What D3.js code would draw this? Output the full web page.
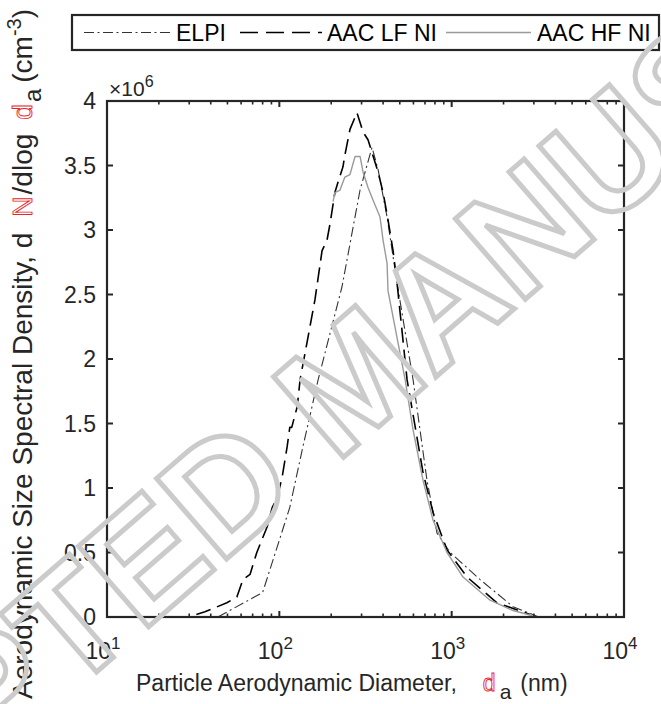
<!DOCTYPE html>
<html><head><meta charset="utf-8">
<script src="https://cdn.jsdelivr.net/npm/d3@7"></script>
<style>
html,body{margin:0;padding:0;background:#fff;}
svg{display:block;font-family:"Liberation Sans",Arial,sans-serif;}
</style></head>
<body>
<svg id="chart" width="661" height="704"></svg>
<script>
// ---- data ----
const seriesNames = ["ELPI", "AAC LF NI", "AAC HF NI"];
const elpiX = [44, 80, 97, 115, 137, 168, 231, 294, 345, 374, 422, 482, 597, 719, 822, 980, 1463, 2270, 2950, 3200];
const elpiY = [0, 0.19, 0.54, 0.85, 1.32, 1.84, 2.56, 3.31, 3.64, 3.47, 3.10, 2.59, 1.84, 1.06, 0.65, 0.50, 0.29, 0.08, 0.02, 0];
const lfX = [33, 37, 49.6, 56.7, 61.5, 67.6, 74, 85, 91, 97, 104, 111, 115, 118, 127, 132, 161, 177, 189, 197, 210, 219, 234, 240, 257, 282, 306, 327, 345, 374, 400, 427, 457, 482, 551, 682, 780, 940, 1228, 1833, 2850];
const lfY = [0.02, 0.04, 0.11, 0.155, 0.29, 0.33, 0.50, 0.70, 0.85, 0.92, 1.09, 1.32, 1.47, 1.47, 1.63, 1.84, 2.46, 2.84, 2.92, 3.05, 3.29, 3.37, 3.49, 3.58, 3.78, 3.91, 3.76, 3.70, 3.60, 3.45, 3.29, 3.08, 2.84, 2.59, 1.84, 1.12, 0.81, 0.52, 0.31, 0.11, 0.02];
const hfX = [205, 210, 225, 240, 257, 275, 294, 306, 327, 350, 384, 400, 422, 427, 537, 597, 682, 780, 940, 1164, 1670, 2270, 2950];
const hfY = [3.22, 3.29, 3.31, 3.41, 3.43, 3.57, 3.57, 3.45, 3.33, 3.23, 3.10, 2.92, 2.74, 2.53, 1.84, 1.45, 1.06, 0.75, 0.50, 0.31, 0.13, 0.05, 0.01];
const yTicks = [0, 0.5, 1, 1.5, 2, 2.5, 3, 3.5, 4];
const yTickLabels = ["0", "0.5", "1", "1.5", "2", "2.5", "3", "3.5", "4"];
const xTickExps = [1, 2, 3, 4];
const yScaleExp = 6;
const watermarkText = "ACCEPTED MANUSCRIPT";

// ---- layout ----
const svg = d3.select("#chart");
const L = 107, R = 624, T = 101, B = 617;
const x = d3.scaleLog().domain([10, 10000]).range([L, R]);
const y = d3.scaleLinear().domain([0, 4]).range([B, T]);
const axisColor = "#262626";
const fs = 23;

svg.append("rect").attr("x", L).attr("y", T).attr("width", R - L).attr("height", B - T).attr("fill", "#fff");

// curves
const line = d3.line().x(d => x(d[0])).y(d => y(d[1]));
const zipS = (a, b) => a.map((v, i) => [v, b[i]]);
const series = [
  { name: seriesNames[0], data: zipS(elpiX, elpiY), color: "#333", w: 1.1, dash: "10,3.5,2,3.5" },
  { name: seriesNames[1], data: zipS(lfX, lfY), color: "#000", w: 1.6, dash: "15,7" },
  { name: seriesNames[2], data: zipS(hfX, hfY), color: "#9a9a9a", w: 1.4, dash: null }
];
const plotG = svg.append("g");
series.forEach(s => {
  plotG.append("path").attr("d", line(s.data)).attr("fill", "none")
    .attr("stroke", s.color).attr("stroke-width", s.w)
    .attr("stroke-dasharray", s.dash).attr("stroke-linejoin", "round");
});

// ticks (inward, all sides)
const tg = svg.append("g").attr("stroke", axisColor);
const major = 6, minor = 3.5;
yTicks.forEach(v => {
  tg.append("line").attr("x1", L).attr("x2", L + major).attr("y1", y(v)).attr("y2", y(v)).attr("stroke-width", 2);
  tg.append("line").attr("x1", R).attr("x2", R - major).attr("y1", y(v)).attr("y2", y(v)).attr("stroke-width", 2);
});
const xMinor = [];
for (let e = 1; e < 4; e++) for (let m = 2; m <= 9; m++) xMinor.push(m * Math.pow(10, e));
xMinor.forEach(v => {
  tg.append("line").attr("x1", x(v)).attr("x2", x(v)).attr("y1", B).attr("y2", B - minor).attr("stroke-width", 1.6);
  tg.append("line").attr("x1", x(v)).attr("x2", x(v)).attr("y1", T).attr("y2", T + minor).attr("stroke-width", 1.6);
});
xTickExps.forEach(e => {
  const v = Math.pow(10, e);
  tg.append("line").attr("x1", x(v)).attr("x2", x(v)).attr("y1", B).attr("y2", B - major).attr("stroke-width", 2);
  tg.append("line").attr("x1", x(v)).attr("x2", x(v)).attr("y1", T).attr("y2", T + major).attr("stroke-width", 2);
});
// box
svg.append("rect").attr("x", L).attr("y", T).attr("width", R - L).attr("height", B - T)
  .attr("fill", "none").attr("stroke", axisColor).attr("stroke-width", 2.2);

// y tick labels
const tl = svg.append("g").attr("fill", axisColor).attr("font-size", fs);
yTicks.forEach((v, i) => {
  tl.append("text").attr("x", L - 11).attr("y", y(v) + 8).attr("text-anchor", "end").text(yTickLabels[i]);
});
// x tick labels
xTickExps.forEach(e => {
  const t = tl.append("text").attr("x", x(Math.pow(10, e)) - 4).attr("y", B + 42).attr("text-anchor", "middle");
  t.append("tspan").text("10");
  t.append("tspan").attr("dy", -10).attr("font-size", 17).text(e);
});
// exponent label
const ex = tl.append("text").attr("x", L + 2).attr("y", T - 5).attr("font-size", 21);
ex.append("tspan").text("\u00d710");
ex.append("tspan").attr("dy", -9).attr("font-size", 16).text(yScaleExp);

// axis titles
const red = (sel, txt, dx) => sel.append("tspan").attr("dx", dx || 0).attr("fill", "#fff").attr("stroke", "#e8262a").attr("stroke-width", 0.9).text(txt);
const xt = svg.append("text").attr("x", 136).attr("y", 691).attr("font-size", fs).attr("fill", axisColor);
xt.append("tspan").text("Particle Aerodynamic Diameter,");
red(xt, "d", 26);
xt.append("tspan").attr("dx", 4).attr("dy", 8).attr("font-size", 21).text("a");
xt.append("tspan").attr("dx", 9).attr("dy", -8).text("(nm)");

const yfs = 28;
const yt = svg.append("text").attr("transform", "translate(32,699) rotate(-90)").attr("font-size", yfs).attr("fill", axisColor);
yt.append("tspan").text("Aerodynamic Size Spectral Density, d");
red(yt, "N", 16);
yt.append("tspan").attr("dx", 2).text("/dlog");
red(yt, "d", 14);
yt.append("tspan").attr("dx", 2).attr("dy", 9).attr("font-size", 24).text("a");
yt.append("tspan").attr("dx", 6).attr("dy", -9).text("(cm");
yt.append("tspan").attr("dy", -11).attr("font-size", 20).text("-3");
yt.append("tspan").attr("dy", 11).text(")");

// legend
const lg = svg.append("g");
lg.append("rect").attr("x", 72).attr("y", 15).attr("width", 587).attr("height", 35)
  .attr("fill", "#fff").attr("stroke", axisColor).attr("stroke-width", 2.2);
const legItems = [
  { s: series[0], x0: 84, x1: 171, tx: 176, dash: "10,3.5,2,3.5" },
  { s: series[1], x0: 240, x1: 322, tx: 327, dash: "18,8" },
  { s: series[2], x0: 446, x1: 531, tx: 537, dash: null }
];
legItems.forEach(it => {
  lg.append("line").attr("x1", it.x0).attr("x2", it.x1).attr("y1", 32.5).attr("y2", 32.5)
    .attr("stroke", it.s.color).attr("stroke-width", it.s.w).attr("stroke-dasharray", it.dash);
  lg.append("text").attr("x", it.tx).attr("y", 41).attr("font-size", 23).attr("fill", "#000").text(it.s.name);
});

// watermark
svg.append("text").attr("transform", "translate(352,378) rotate(-41)")
  .attr("text-anchor", "middle").attr("font-size", 155).attr("font-weight", "bold")
  .attr("fill", "none").attr("stroke", "#cbcbcb").attr("stroke-width", 5)
  .attr("dy", "0.35em").text(watermarkText);
</script>
</body></html>
